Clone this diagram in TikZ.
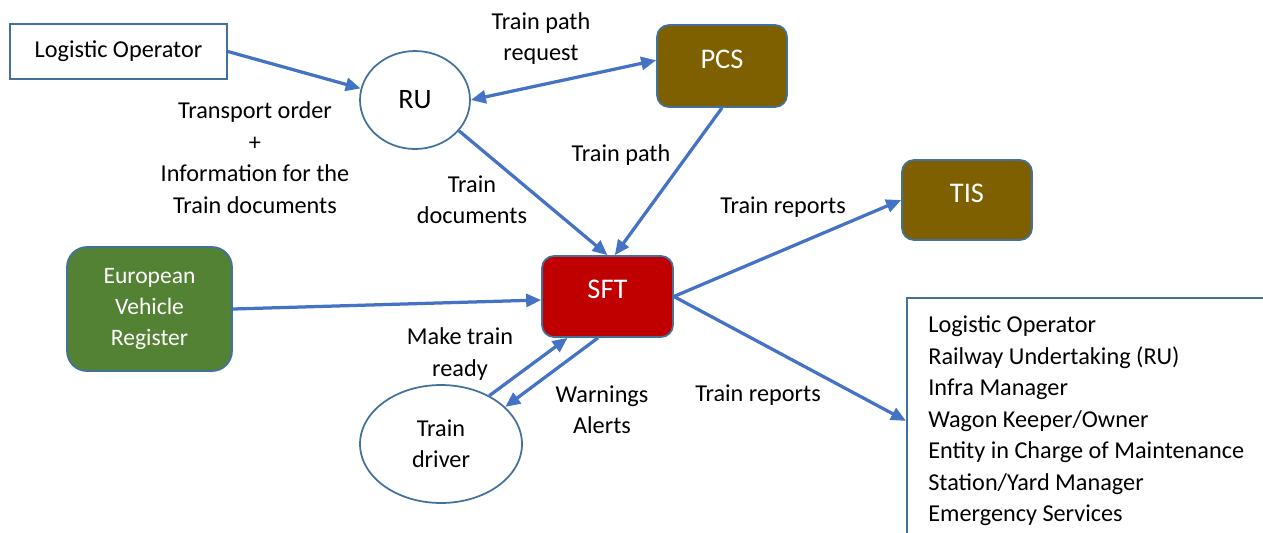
\documentclass[tikz,border=0pt]{standalone}
\usepackage{fontspec}
\setmainfont{Carlito}
\usetikzlibrary{shapes, arrows.meta}
\definecolor{edge}{HTML}{41719C}
\definecolor{flowblue}{HTML}{4472C4}
\definecolor{pcsbrown}{HTML}{7F6000}
\definecolor{sftred}{HTML}{C00000}
\definecolor{evrgreen}{HTML}{548235}

\begin{document}
\begin{tikzpicture}[x=0.02cm, y=-0.02cm, font=\fontsize{13.8}{17.9}\selectfont,
		>={Triangle[length=0.3cm, width=0.26cm]},
		box/.style={rectangle, draw=edge, line width=0.035cm, inner sep=0pt},
		sys/.style={box, rounded corners=0.24cm, text=white, font=\fontsize{16.2}{17.9}\selectfont},
		lift/.style={text depth=0.28cm},
		bubble/.style={ellipse, draw=edge, line width=0.035cm, inner sep=0pt, align=center},
		flow/.style={draw=flowblue, line width=0.065cm, ->},
		lbl/.style={align=center, inner sep=0pt}]
		\useasboundingbox (0, 0) rectangle (1263, 532);
		\node(LO) at (118.5, 51.5)[box, minimum width=4.34cm, minimum height=1.1cm]{Logistic Operator};
		\node(RU) at (415, 100)[bubble, font=\fontsize{16}{17.9}\selectfont, minimum width=2.2cm, minimum height=1.96cm]{RU};
		\node(PCS) at (722, 66)[sys, lift, fill=pcsbrown, minimum width=2.6cm, minimum height=1.64cm]{PCS};
		\node(TIS) at (967, 200)[sys, lift, fill=pcsbrown, minimum width=2.6cm, minimum height=1.6cm]{TIS};
		\node(SFT) at (607.5, 296.5)[sys, lift, fill=sftred, minimum width=2.62cm, minimum height=1.62cm]{SFT};
		\node(EVR) at (149.5, 309)[sys, rounded corners=0.4cm, fill=evrgreen, align=center, font=\fontsize{13.4}{17.9}\selectfont, minimum width=3.3cm, minimum height=2.48cm]{European\\Vehicle\\Register};
		\node(DRV) at (441, 444)[bubble, minimum width=3.24cm, minimum height=2.36cm]{Train\\driver};
		\node(LIST) at (906, 297)[box, anchor=north west, minimum width=8cm, minimum height=4.92cm]{};
		\node(ROLES) at (928, 421)[lbl, anchor=west, align=left]{Logistic Operator\\Railway Undertaking (RU)\\Infra Manager\\Wagon Keeper/Owner\\Entity in Charge of Maintenance\\Station/Yard Manager\\Emergency Services};
		\draw[flow] (LO.east)--(RU.168);
		\draw[flow, <->] (RU.east)--(PCS.175);
		\draw[flow] (RU.-35)--(SFT.north);
		\draw[flow] (PCS.south)--(SFT.80);
		\draw[flow] (SFT.east)--(TIS.west);
		\draw[flow] (SFT.east)--(LIST.west);
		\draw[flow] (EVR.east)--(SFT.183);
		\draw[flow] (DRV.45)--(SFT.226);
		\draw[flow] (SFT.257)--(DRV.30);
		\node(ORD) at (255, 157.5)[lbl]{Transport order\\+\\Information for the\\Train documents};
		\node(REQ) at (541, 38.5)[lbl]{Train path\\request};
		\node(DOC) at (472, 199.5)[lbl]{Train\\documents};
		\node(PTH) at (621, 155)[lbl]{Train path};
		\node(REP1) at (783, 207)[lbl]{Train reports};
		\node(REP2) at (758, 395)[lbl]{Train reports};
		\node(RDY) at (460, 354)[lbl]{Make train\\ready};
		\node(WRN) at (602, 410)[lbl]{Warnings\\Alerts};
\end{tikzpicture}
\end{document}
